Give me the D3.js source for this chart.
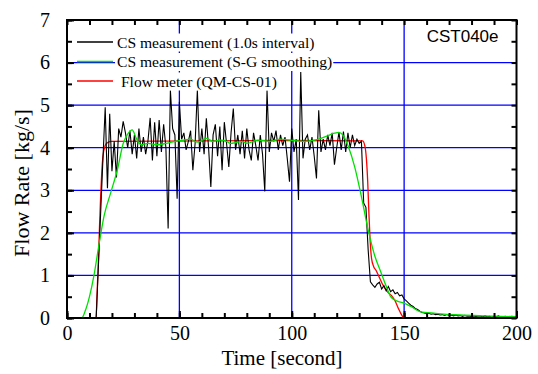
<!DOCTYPE html>
<html>
<head>
<meta charset="utf-8">
<script src="https://cdn.jsdelivr.net/npm/d3@7"></script>
<style>
  body { margin: 0; background: #fff; }
  .axis path { display: none; }
  .axis line { stroke: #000; stroke-width: 2; }
</style>
</head>
<body>
<div id="chart-area"></div>
<script>

// Data

// CS measurement, one value per second starting at t = 0
var csStart = 0, csStep = 1.0;
var csFlow = [
  0, 0, 0, 0, 0, 0, 0, 0, 0, 0,
  0, 0, 0, 0.02, 1.25, 2.5, 3.75, 4.95, 3.05, 4.8,
  3.45, 4.15, 3.3, 4.45, 4.25, 4.62, 4.35, 4.0, 4.4, 3.85,
  4.3, 3.75, 4.45, 3.9, 4.25, 3.85, 4.15, 4.7, 3.7, 4.6,
  3.8, 4.65, 3.9, 4.55, 4.0, 2.1, 5.35, 4.45, 4.3, 2.8,
  5.08, 4.2, 4.35, 3.95, 4.15, 4.4, 3.47, 4.1, 5.35, 3.9,
  4.45, 3.85, 4.69, 4.0, 3.08, 4.3, 4.55, 3.8, 4.5, 3.47,
  4.6, 4.1, 3.55, 4.35, 4.92, 3.95, 4.3, 3.85, 4.4, 3.75,
  4.45, 3.95, 3.7, 4.35, 4.05, 3.7, 4.3, 3.85, 2.97, 5.35,
  3.9, 4.35, 4.15, 4.4, 3.95, 4.3, 4.05, 4.25, 3.75, 3.2,
  4.45, 3.9, 4.2, 2.77, 5.78, 3.75, 4.2, 4.3, 3.95, 4.25,
  3.8, 3.28, 4.88, 3.9, 4.2, 3.95, 4.3, 4.05, 4.35, 3.6,
  4.0, 4.37, 3.95, 4.38, 3.9, 4.35, 4.0, 4.3, 4.05, 4.2,
  4.1, 4.15, 2.7, 2.6, 1.6, 0.85, 0.78, 0.72, 0.8, 0.84,
  0.68, 0.76, 0.64, 0.74, 0.62, 0.66, 0.57, 0.6, 0.52, 0.54,
  0.45, 0.4, 0.35, 0.3, 0.27, 0.22, 0.2, 0.16, 0.13, 0.12,
  0.1, 0.11, 0.09, 0.1, 0.08, 0.09, 0.07, 0.08, 0.06, 0.08,
  0.06, 0.07, 0.05, 0.07, 0.05, 0.06, 0.04, 0.06, 0.04, 0.05,
  0.03, 0.05, 0.03, 0.05, 0.04, 0.03, 0.05, 0.03, 0.04, 0.02,
  0.04, 0.03, 0.05, 0.02, 0.03, 0.04, 0.02, 0.03, 0.04, 0.02,
  0.03
];

// S-G smoothing
var sgTime = [0, 6.5, 8, 10, 12, 14, 16.5, 19.5, 22.5, 25, 27, 29, 31, 33, 36, 40, 44, 48, 52, 55,
  58, 60, 62, 65, 68, 70, 73, 75, 78, 80, 85, 90, 95, 100, 105, 110, 113, 116, 119, 121,
  123, 125, 128, 131, 134, 137, 139.5, 142, 144, 146, 148, 150, 153, 157, 164, 175, 185, 200];
var sgFlow = [0, 0, 0.15, 0.5, 1.0, 1.65, 2.4, 2.95, 3.5, 4.1, 4.32, 4.42, 4.2, 4.07, 4.1, 4.07, 4.1, 4.15, 4.18, 4.2,
  4.13, 4.17, 4.22, 4.15, 4.18, 4.17, 4.1, 4.12, 4.15, 4.1, 4.18, 4.15, 4.2, 4.17, 4.15, 4.18, 4.22, 4.28, 4.34, 4.36,
  4.28, 4.05, 3.55, 2.85, 2.07, 1.45, 1.1, 0.75, 0.5, 0.42, 0.38, 0.35, 0.27, 0.15, 0.11, 0.07, 0.05, 0.03];

// Flow meter
var fmTime = [0, 12.9, 13.4, 14, 14.5, 15, 15.5, 16, 17, 18, 20, 60, 100, 131.5, 132.5, 133.2, 133.8, 134.3,
  134.8, 135.5, 136.5, 137.5, 139, 140.5, 142.5, 144.5, 146, 147.5, 149, 150, 200];
var fmFlow = [0, 0, 0.6, 1.4, 2.2, 2.9, 3.45, 3.8, 4.05, 4.12, 4.15, 4.16, 4.17, 4.16, 4.05, 3.75, 3.2, 2.5,
  1.9, 1.4, 1.2, 1.12, 0.95, 0.78, 0.62, 0.52, 0.4, 0.22, 0.06, 0, 0];

var xTicks = [0, 50, 100, 150, 200];
var yTicks = [0, 1, 2, 3, 4, 5, 6, 7];
var legendLabels = ["CS measurement (1.0s interval)", "CS measurement (S-G smoothing)", " Flow meter (QM-CS-01)"];
var legendColors = ["#000", "#00e000", "#ff0000"];

var serif = "'Liberation Serif', 'Times New Roman', serif";

// SVG drawing area
var margin = {top: 20, right: 21.5, bottom: 56, left: 67};
var width = 538 - margin.left - margin.right;
var height = 374 - margin.top - margin.bottom;

var svg = d3.select("#chart-area").append("svg")
    .attr("width", 538)
    .attr("height", 374)
  .append("g")
    .attr("transform", "translate(" + margin.left + "," + margin.top + ")");

var x = d3.scaleLinear().domain([0, 200]).range([0, width]);
var y = d3.scaleLinear().domain([0, 7]).range([height, 0]);

// Grid
svg.append("g").selectAll("line")
  .data(yTicks.slice(1, -1))
  .enter().append("line")
    .attr("x1", 0).attr("x2", width)
    .attr("y1", function(d) { return y(d); })
    .attr("y2", function(d) { return y(d); })
    .attr("stroke", "#0000ff").attr("stroke-width", 1.3);

svg.append("g").selectAll("line")
  .data(xTicks.slice(1, -1))
  .enter().append("line")
    .attr("y1", 0).attr("y2", height)
    .attr("x1", function(d) { return x(d); })
    .attr("x2", function(d) { return x(d); })
    .attr("stroke", "#0000ff").attr("stroke-width", 1.3);

// Lines
var csData = csFlow.map(function(v, i) { return [csStart + i * csStep, v]; });
var sgData = sgTime.map(function(t, i) { return [t, sgFlow[i]]; });
var fmData = fmTime.map(function(t, i) { return [t, fmFlow[i]]; });

var line = d3.line()
  .x(function(d) { return x(d[0]); })
  .y(function(d) { return y(d[1]); });
var smooth = d3.line()
  .curve(d3.curveMonotoneX)
  .x(function(d) { return x(d[0]); })
  .y(function(d) { return y(d[1]); });

svg.append("path").attr("d", smooth(fmData))
  .attr("fill", "none").attr("stroke", legendColors[2]).attr("stroke-width", 1.3);
svg.append("path").attr("d", line(csData))
  .attr("fill", "none").attr("stroke", legendColors[0]).attr("stroke-width", 1.1);
svg.append("path").attr("d", smooth(sgData))
  .attr("fill", "none").attr("stroke", legendColors[1]).attr("stroke-width", 1.3);

// Ticks on all four sides, pointing inward
var xMinor = d3.range(0, 201, 10);
var yMinor = d3.range(0, 7.01, 0.5);

function styleAxis(g) {
  g.attr("font-family", serif).attr("font-size", 20);
  g.selectAll("text").attr("fill", "#000");
}

svg.append("g").attr("class", "axis")
  .attr("transform", "translate(0," + height + ")")
  .call(d3.axisBottom(x).tickValues(xMinor).tickSize(-5).tickFormat(""));
svg.append("g").attr("class", "axis")
  .attr("transform", "translate(0," + height + ")")
  .call(d3.axisBottom(x).tickValues(xTicks).tickSize(-7).tickPadding(8).tickFormat(d3.format("d")))
  .call(styleAxis);
svg.append("g").attr("class", "axis")
  .call(d3.axisTop(x).tickValues(xMinor).tickSize(-5).tickFormat(""));
svg.append("g").attr("class", "axis")
  .call(d3.axisLeft(y).tickValues(yMinor).tickSize(-5).tickFormat(""));
svg.append("g").attr("class", "axis")
  .call(d3.axisLeft(y).tickValues(yTicks).tickSize(-7).tickPadding(17).tickFormat(d3.format("d")))
  .call(styleAxis);
svg.append("g").attr("class", "axis")
  .attr("transform", "translate(" + width + ",0)")
  .call(d3.axisRight(y).tickValues(yMinor).tickSize(-5).tickFormat(""));

// Frame
svg.append("rect")
  .attr("width", width).attr("height", height)
  .attr("fill", "none").attr("stroke", "#000").attr("stroke-width", 2);

// Axis titles
svg.append("text")
  .attr("x", 215).attr("y", height + 47)
  .attr("text-anchor", "middle").attr("font-size", 21)
  .attr("font-family", serif)
  .text("Time [second]");
svg.append("text")
  .attr("transform", "translate(-38,163) rotate(-90)")
  .attr("text-anchor", "middle").attr("font-size", 22)
  .attr("font-family", serif)
  .text("Flow Rate [kg/s]");

// Run label
svg.append("text")
  .attr("x", width - 18).attr("y", 22)
  .attr("text-anchor", "end").attr("font-size", 17)
  .attr("font-family", "'Liberation Sans', Arial, sans-serif")
  .text("CST040e");

// Legend
var legend = svg.append("g").attr("transform", "translate(10,22)");
legendLabels.forEach(function(label, i) {
  var row = legend.append("g").attr("transform", "translate(0," + (i * 19.5) + ")");
  var bg = row.append("rect").attr("fill", "#fff");
  row.append("line")
    .attr("x1", 0).attr("x2", 36)
    .attr("stroke", legendColors[i]).attr("stroke-width", 1.3);
  var txt = row.append("text")
    .attr("x", 40).attr("y", 5.5)
    .attr("font-size", 15.6)
    .attr("font-family", serif)
    .attr("xml:space", "preserve")
    .text(label);
  var b = txt.node().getBBox();
  bg.attr("x", b.x - 2).attr("y", b.y).attr("width", b.width + 3).attr("height", b.height);
});

</script>
</body>
</html>
